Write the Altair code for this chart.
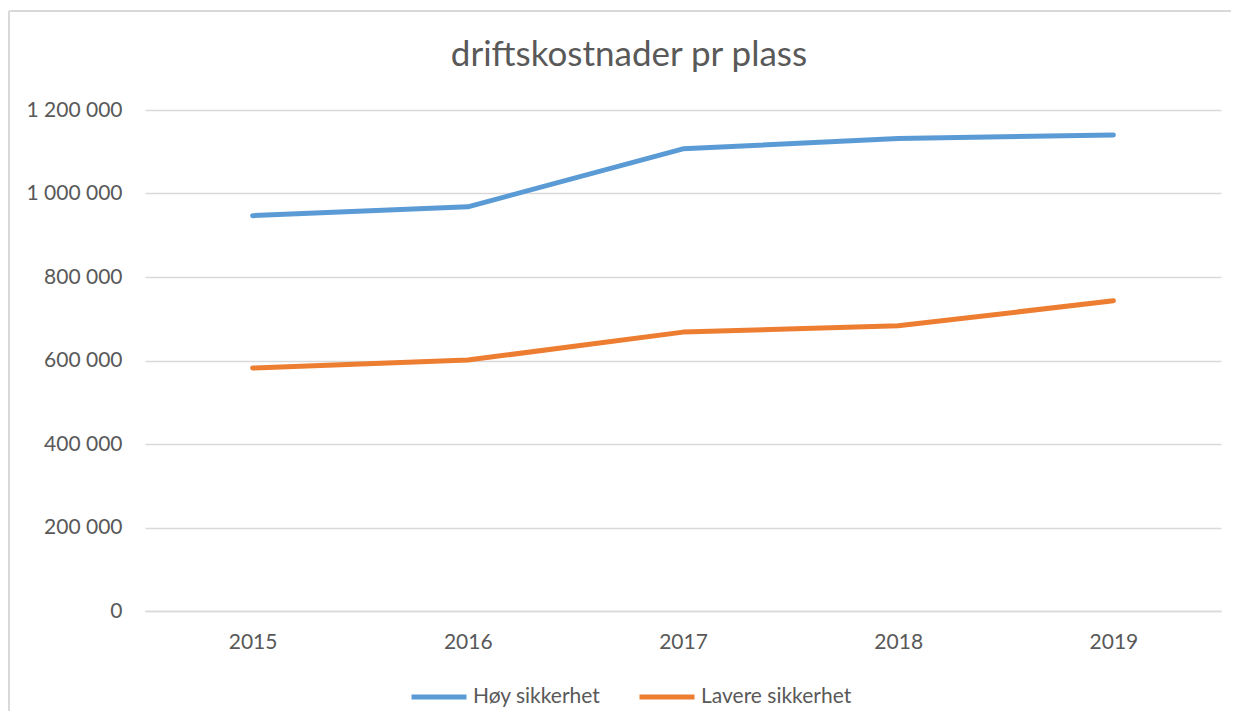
import altair as alt
import pandas as pd

years = ["2015", "2016", "2017", "2018", "2019"]
hoy_sikkerhet = [947000, 968000, 1107000, 1132000, 1140000]
lavere_sikkerhet = [582000, 601000, 668000, 683000, 743000]
series_names = ["Høy sikkerhet", "Lavere sikkerhet"]
series_colors = ["#5B9BD5", "#ED7D31"]
y_ticks = [0, 200000, 400000, 600000, 800000, 1000000, 1200000]

rows = []
for name, vals in zip(series_names, [hoy_sikkerhet, lavere_sikkerhet]):
    for yr, v in zip(years, vals):
        rows.append({"year": yr, "value": v, "series": name})
df = pd.DataFrame(rows)

FONT = "Lato"
TXT = "#595959"
GRID = "#D9D9D9"

lines = alt.Chart(df).mark_line(strokeWidth=5, strokeCap="round", strokeJoin="round").encode(
    x=alt.X("year:O", sort=years, title=None,
            scale=alt.Scale(type="point", padding=0.5),
            axis=alt.Axis(labelAngle=0, ticks=False, domainColor=GRID, domainWidth=1.5,
                          labelPadding=20, labelFontSize=21, labelColor=TXT, labelFont=FONT,
                          grid=False)),
    y=alt.Y("value:Q", title=None,
            scale=alt.Scale(domain=[0, 1200000], nice=False),
            axis=alt.Axis(values=y_ticks, ticks=False, domain=False, gridColor=GRID,
                          gridWidth=1.5, labelPadding=23, labelFontSize=21, labelColor=TXT,
                          labelFont=FONT,
                          labelExpr="replace(format(datum.value, ',d'), regexp(',', 'g'), ' ')")),
    color=alt.Color("series:N", sort=series_names,
                    scale=alt.Scale(domain=series_names, range=series_colors),
                    legend=alt.Legend(title=None, orient="none", direction="horizontal",
                                      legendX=264, legendY=557,
                                      symbolType="stroke", symbolSize=3025,
                                      symbolStrokeWidth=5, labelOffset=4,
                                      columnPadding=28, labelFontSize=21,
                                      labelColor=TXT, labelFont=FONT)),
)

border_left = alt.Chart(df).mark_rule(color=GRID, strokeWidth=2).encode(
    x=alt.value(-136), y=alt.value(-99), y2=alt.value(620)
)
border_top = alt.Chart(df).mark_rule(color=GRID, strokeWidth=2).encode(
    x=alt.value(-136), x2=alt.value(1090), y=alt.value(-99)
)

chart = alt.layer(border_left, border_top, lines).properties(
    width=1076,
    height=501,
    padding={"left": 137, "top": 102, "right": 10, "bottom": 100},
    autosize=alt.AutoSizeParams(type="none"),
    title=alt.TitleParams("driftskostnader pr plass", fontSize=35, font=FONT,
                          fontWeight="normal", color=TXT, anchor="middle",
                          baseline="alphabetic", dx=-54, offset=-91),
).configure_view(stroke=None)

chart.save("out.html", embed_options={"renderer": "svg", "actions": False})
